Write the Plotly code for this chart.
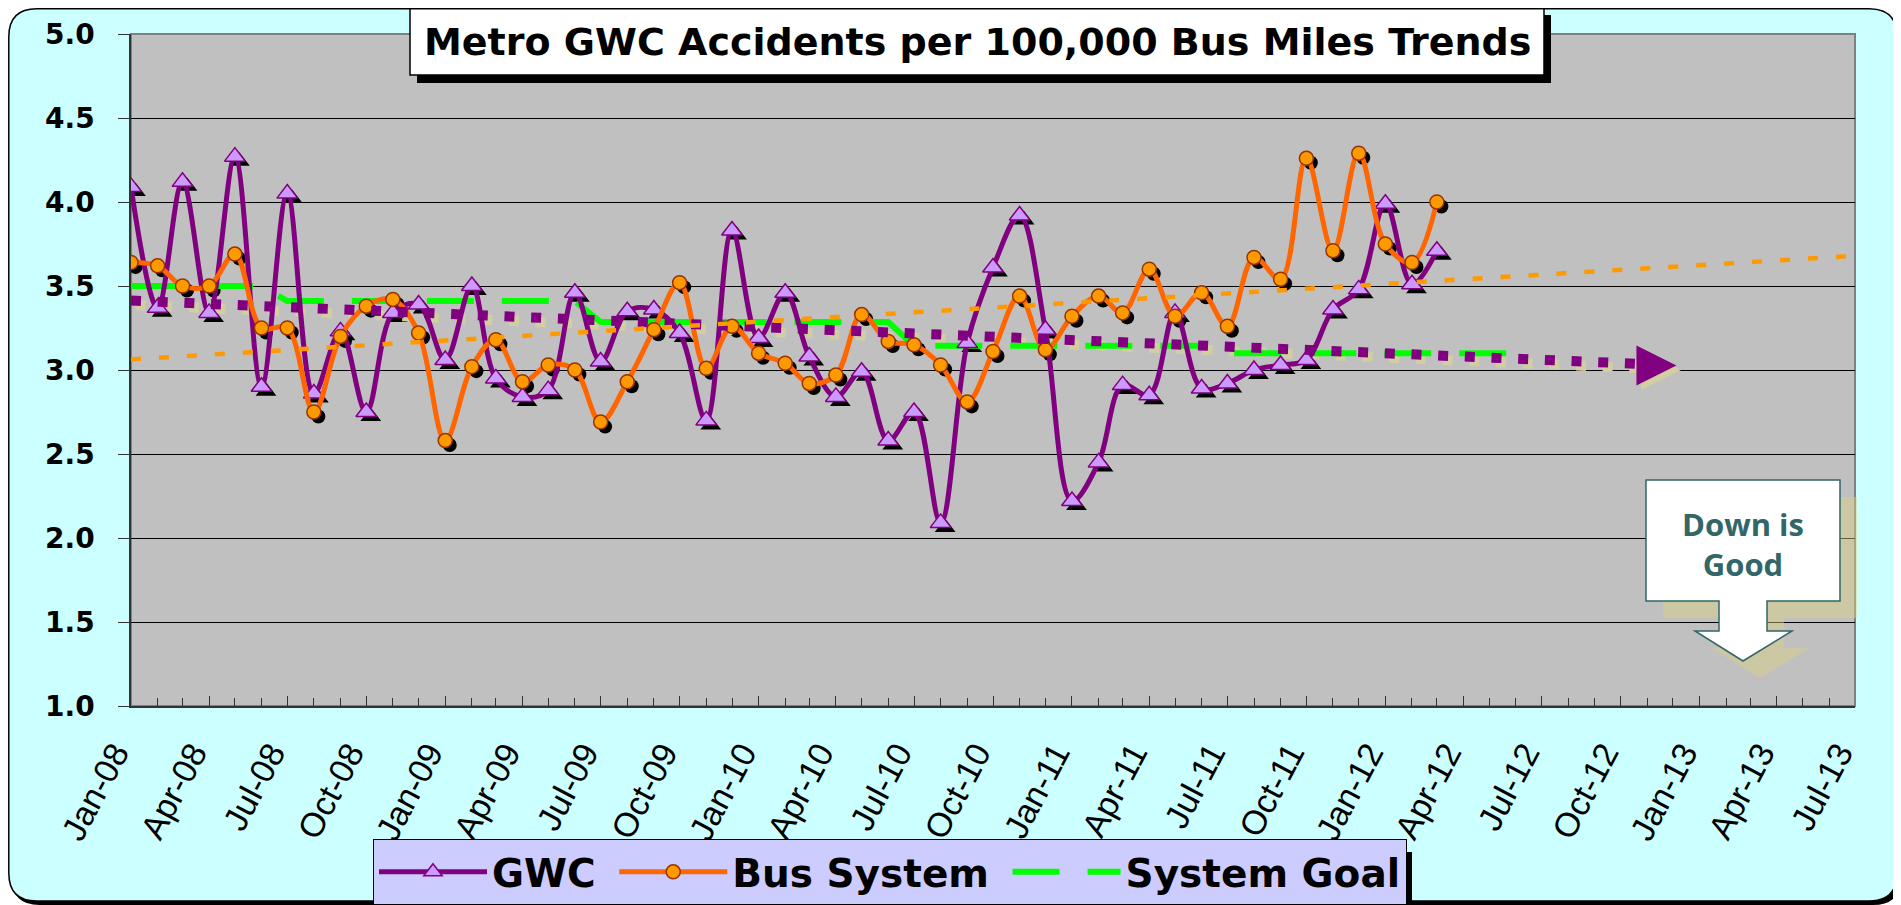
import pandas as pd
import plotly.graph_objects as go

# ---------------- data ----------------
gwc = [4.09, 3.37, 4.12, 3.34, 4.27, 2.90, 4.05, 2.86, 3.23, 2.75,
       3.34, 3.39, 3.06, 3.50, 2.95, 2.84, 2.88, 3.46, 3.05, 3.35,
       3.36, 3.22, 2.70, 3.83, 3.19, 3.46, 3.08, 2.84, 2.99, 2.58,
       2.75, 2.09, 3.16, 3.61, 3.92, 3.24, 2.22, 2.45, 2.91, 2.85,
       3.34, 2.89, 2.92, 3.00, 3.03, 3.06, 3.36, 3.48, 3.99, 3.51, 3.71]
bus_system = [3.64, 3.62, 3.50, 3.50, 3.69, 3.25, 3.25, 2.75, 3.20, 3.38,
              3.42, 3.22, 2.58, 3.02, 3.18, 2.93, 3.03, 3.00, 2.69, 2.93,
              3.24, 3.52, 3.01, 3.26, 3.10, 3.04, 2.92, 2.97, 3.33, 3.17,
              3.15, 3.03, 2.81, 3.11, 3.44, 3.12, 3.32, 3.44, 3.34, 3.60,
              3.32, 3.46, 3.26, 3.67, 3.54, 4.26, 3.71, 4.29, 3.75, 3.64, 4.00]
system_goal = [3.50, 3.50, 3.50, 3.50, 3.50, 3.50,
               3.41, 3.41, 3.41, 3.41, 3.41, 3.41, 3.41, 3.41, 3.41, 3.41, 3.41, 3.41,
               3.285, 3.285, 3.285, 3.285, 3.285, 3.285, 3.285, 3.285, 3.285, 3.285, 3.285, 3.285,
               3.145, 3.145, 3.145, 3.145, 3.145, 3.145, 3.145, 3.145, 3.145, 3.145, 3.145, 3.145,
               3.10, 3.10, 3.10, 3.10, 3.10, 3.10, 3.10, 3.10, 3.10, 3.10, 3.10, 3.10]
months = pd.date_range("2008-01-01", periods=len(gwc), freq="MS")
goal_months = pd.date_range("2008-01-01", periods=len(system_goal), freq="MS")

gwc_trend_dates = ["2008-01-01", "2012-12-05"]
gwc_trend_values = [3.413, 3.027]
bus_trend_dates = ["2008-01-01", "2013-07-01"]
bus_trend_values = [3.063, 3.68]

x_start, x_end = pd.Timestamp("2008-01-01"), pd.Timestamp("2013-07-01")
y_min, y_max = 1.0, 5.0

series_names = ["GWC", "Bus System", "System Goal"]
title_text = "Metro GWC Accidents per 100,000 Bus Miles Trends"
callout_text = "Down is<br>Good"

# ---------------- geometry (reference pixels) ----------------
# the page body adds an 8 px margin, so the figure is 8 px smaller and
# all reference pixel positions are measured from the window corner.
BODY = 8
FW, FH = 1901 - BODY, 905 - BODY
PL, PR, PT, PB = 131, 1855, 34, 706
W, H = PR - PL, PB - PT


def px(X):
    return (X - PL) / W


def py(Y):
    return (PB - Y) / H


def poly(points):
    s = "M" + " L".join(f"{px(a):.5f},{py(b):.5f}" for a, b in points)
    return s + " Z"


def rrect(x0, y0, x1, y1, r):
    P = lambda a, b: f"{px(a):.5f},{py(b):.5f}"
    return (f"M{P(x0 + r, y0)} L{P(x1 - r, y0)} Q{P(x1, y0)} {P(x1, y0 + r)} "
            f"L{P(x1, y1 - r)} Q{P(x1, y1)} {P(x1 - r, y1)} L{P(x0 + r, y1)} "
            f"Q{P(x0, y1)} {P(x0, y1 - r)} L{P(x0, y0 + r)} Q{P(x0, y0)} {P(x0 + r, y0)} Z")


def rect(x0, y0, x1, y1, fill, line_color=None, lw=0, layer="above", opacity=1):
    return dict(type="rect", xref="paper", yref="paper", x0=px(x0), x1=px(x1),
                y0=py(y1), y1=py(y0), fillcolor=fill, layer=layer, opacity=opacity,
                line=dict(color=line_color or fill, width=lw))


# shadow offset (pixels) realised through a shifted pair of axes
SH = 4.5
days = (x_end - x_start).days
dx = pd.Timedelta(days=SH * days / W)
dy = SH * (y_max - y_min) / H

PURPLE, LAVENDER = "#800080", "#CC99FF"
ORANGE_LINE, ORANGE_FILL, BROWN = "#FF6600", "#FF9900", "#993300"
GREEN, BEIGE = "#00FF00", "#D2CEA2"
NBSP = "\u00a0"

fig = go.Figure()

# ---- shadows (base axes, shifted) ----
fig.add_trace(go.Scatter(x=months, y=gwc, mode="markers", xaxis="x", yaxis="y",
                         marker=dict(symbol="triangle-up", size=18, color="black"),
                         showlegend=False, hoverinfo="skip"))
fig.add_trace(go.Scatter(x=months, y=bus_system, mode="markers", xaxis="x", yaxis="y",
                         marker=dict(symbol="circle", size=14, color="black"),
                         showlegend=False, hoverinfo="skip"))
fig.add_trace(go.Scatter(x=gwc_trend_dates, y=gwc_trend_values, mode="lines", xaxis="x", yaxis="y",
                         line=dict(color=BEIGE, width=10, dash="10px,16.7px"),
                         showlegend=False, hoverinfo="skip"))

# ---- main series ----
fig.add_trace(go.Scatter(x=goal_months, y=system_goal, name=series_names[2], mode="lines",
                         xaxis="x2", yaxis="y2", legendrank=3,
                         line=dict(color=GREEN, width=6, dash="47px,28px")))
fig.add_trace(go.Scatter(x=months, y=gwc, name=series_names[0] + NBSP, mode="lines+markers",
                         xaxis="x2", yaxis="y2", legendrank=1,
                         line=dict(color=PURPLE, width=5, shape="spline", smoothing=1),
                         marker=dict(symbol="triangle-up", size=18, color=LAVENDER,
                                     line=dict(color=PURPLE, width=1.5))))
fig.add_trace(go.Scatter(x=months, y=bus_system, name=series_names[1] + NBSP, mode="lines+markers",
                         xaxis="x2", yaxis="y2", legendrank=2,
                         line=dict(color=ORANGE_LINE, width=5, shape="spline", smoothing=1),
                         marker=dict(symbol="circle", size=14, color=ORANGE_FILL,
                                     line=dict(color=BROWN, width=1.5))))
fig.add_trace(go.Scatter(x=gwc_trend_dates, y=gwc_trend_values, mode="lines",
                         xaxis="x2", yaxis="y2", showlegend=False, hoverinfo="skip",
                         line=dict(color=PURPLE, width=10, dash="10px,16.7px")))
fig.add_trace(go.Scatter(x=bus_trend_dates, y=bus_trend_values, mode="lines",
                         xaxis="x2", yaxis="y2", showlegend=False, hoverinfo="skip",
                         line=dict(color=ORANGE_FILL, width=4.5, dash="10px,18px")))

# ---------------- decorations ----------------
callout = [(1646, 480), (1840, 480), (1840, 601), (1767, 601), (1767, 631), (1792, 631),
           (1743, 661), (1695, 631), (1719, 631), (1719, 601), (1646, 601)]
callout_shadow = [(a + 17, b + 17) for a, b in callout]

shapes = [
    # page frame
    dict(type="path", xref="paper", yref="paper", path=rrect(11.5, 12, 1901, 905, 28),
         fillcolor="black", line=dict(width=0), layer="below"),
    dict(type="path", xref="paper", yref="paper", path=rrect(8.8, 8.8, 1897, 901, 28),
         fillcolor="#CCFFFF", line=dict(color="black", width=1.5), layer="below"),
    # plot area
    dict(type="rect", xref="paper", yref="paper", x0=0, x1=1, y0=0, y1=1,
         fillcolor="#C0C0C0", line=dict(color="#808080", width=2), layer="below"),
    # title box
    rect(417, 15, 1551, 83, "black"),
    rect(410, 8.8, 1544, 75, "white", "black", 1.5),
    # legend shadow
    rect(380, 852, 1412, 905, "black"),
    # callout
    dict(type="path", xref="paper", yref="paper", path=poly(callout_shadow),
         fillcolor="rgba(222,210,130,0.45)", line=dict(width=0), layer="above"),
    dict(type="path", xref="paper", yref="paper", path=poly(callout),
         fillcolor="white", line=dict(color="#2F6666", width=1.5), layer="above"),
]

annotations = [
    dict(xref="paper", yref="paper", x=px(977), y=py(42), text=title_text, showarrow=False,
         xanchor="center", yanchor="middle",
         font=dict(family="DejaVu Sans", size=38, color="black", weight="bold")),
    dict(xref="paper", yref="paper", x=px(1743), y=py(544), text=callout_text, showarrow=False,
         xanchor="center", yanchor="middle",
         font=dict(family="Open Sans", size=31, color="#336666", weight="bold")),
    dict(xref="x", yref="y", x=gwc_trend_dates[-1], y=gwc_trend_values[-1], text="",
         showarrow=True, ax=-20, ay=0, arrowhead=2, arrowsize=4, arrowwidth=2,
         arrowcolor=BEIGE, standoff=0),
    dict(xref="x2", yref="y2", x=gwc_trend_dates[-1], y=gwc_trend_values[-1], text="",
         showarrow=True, ax=-20, ay=0, arrowhead=2, arrowsize=4, arrowwidth=2,
         arrowcolor=PURPLE, standoff=0),
]

AX = "#333333"
fig.update_layout(
    width=FW, height=FH, autosize=False,
    margin=dict(l=PL - BODY, r=1901 - PR, t=PT - BODY, b=905 - PB, pad=0, autoexpand=False),
    paper_bgcolor="white", plot_bgcolor="rgba(0,0,0,0)",
    font=dict(family="DejaVu Sans", color="black"),
    showlegend=True,
    xaxis=dict(type="date", range=[x_start - dx, x_end - dx], visible=False, fixedrange=True),
    yaxis=dict(range=[y_min + dy, y_max + dy], visible=False, fixedrange=True),
    xaxis2=dict(type="date", overlaying="x", anchor="y2", range=[x_start, x_end],
                tick0="2008-01-01", dtick="M3", tickformat="%b-%y", tickangle=-62,
                ticks="inside", ticklen=10, tickwidth=1, tickcolor=AX,
                minor=dict(dtick="M1", tick0="2008-01-01", ticks="inside", ticklen=8,
                           tickwidth=1, tickcolor=AX, showgrid=False),
                showgrid=False, zeroline=False, showline=True, linecolor=AX, linewidth=1.5,
                tickfont=dict(family="Liberation Sans", size=34, color="black"),
                ticklabelstandoff=12, ticklabelshift=-16),
    xaxis3=dict(type="date", overlaying="x", anchor="y", range=[x_start, x_end],
                tick0="2008-01-01", dtick="M3", ticks="outside", ticklen=10, tickwidth=1,
                tickcolor=AX, showticklabels=False, showgrid=False, zeroline=False,
                showline=False),
    yaxis2=dict(overlaying="y", anchor="x2", range=[y_min, y_max], tick0=1, dtick=0.5,
                tickformat=".1f", ticks="outside", ticklen=11, tickwidth=1, tickcolor=AX,
                showgrid=True, gridcolor="black", gridwidth=1, zeroline=False,
                showline=True, linecolor=AX, linewidth=1.5, ticklabelstandoff=18,
                tickfont=dict(family="DejaVu Sans", size=28, color="black", weight="bold")),
    legend=dict(orientation="h", x=px(373), y=py(839), xanchor="left", yanchor="top",
                bgcolor="#CCCCFF", bordercolor="black", borderwidth=1, itemwidth=108,
                font=dict(family="DejaVu Sans", size=39, color="black", weight="bold")),
    shapes=shapes,
    annotations=annotations,
)

fig.write_html("out.html")
